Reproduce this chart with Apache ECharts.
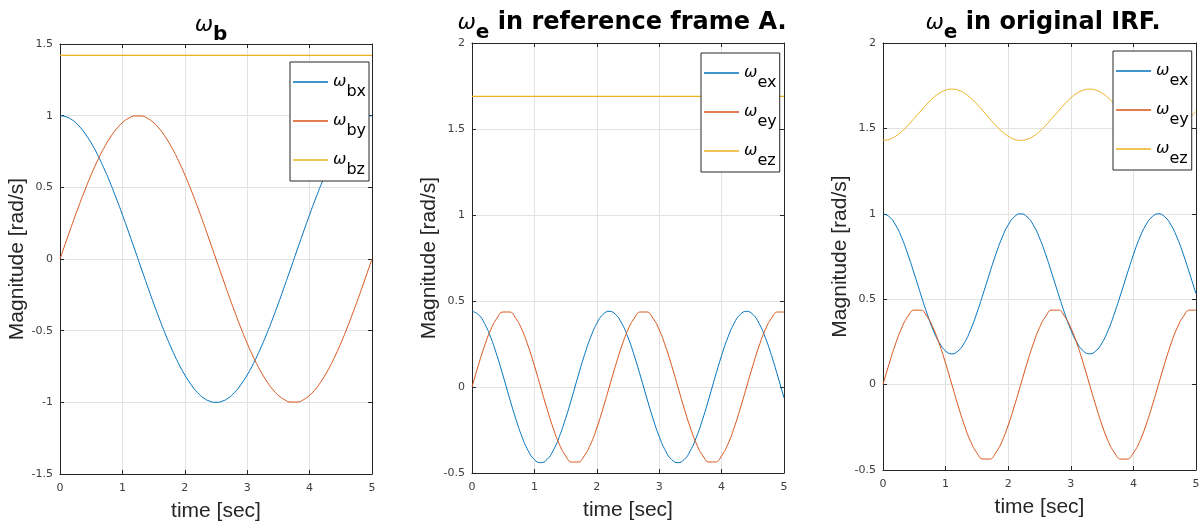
<!DOCTYPE html>
<html>
<head>
<meta charset="utf-8">
<script src="https://cdn.jsdelivr.net/npm/echarts@6/dist/echarts.min.js"></script>
<style>
  html, body { margin: 0; padding: 0; background: #fff; }
  #chart { width: 1204px; height: 529px; }
</style>
</head>
<body>
<div id="chart"></div>
<script>
// time samples (sec)
const time = [0,0.1,0.2,0.3,0.4,0.5,0.6,0.7,0.8,0.9,1,1.1,1.2,1.3,1.4,1.5,1.6,1.7,1.8,1.9,2,2.1,2.2,2.3,2.4,2.5,2.6,2.7,2.8,2.9,3,3.1,3.2,3.3,3.4,3.5,3.6,3.7,3.8,3.9,4,4.1,4.2,4.3,4.4,4.5,4.6,4.7,4.8,4.9,5];

// panel 1 : omega_b
const wbx = [1.000,0.992,0.969,0.930,0.876,0.809,0.729,0.637,0.536,0.426,0.309,0.187,0.063,-0.063,-0.187,-0.309,-0.426,-0.536,-0.637,-0.729,-0.809,-0.876,-0.930,-0.969,-0.992,-1.000,-0.992,-0.969,-0.930,-0.876,-0.809,-0.729,-0.637,-0.536,-0.426,-0.309,-0.187,-0.063,0.063,0.187,0.309,0.426,0.536,0.637,0.729,0.809,0.876,0.930,0.969,0.992,1.000];
const wby = [0,0.125,0.249,0.368,0.482,0.588,0.685,0.771,0.844,0.905,0.951,0.982,0.998,0.998,0.982,0.951,0.905,0.844,0.771,0.685,0.588,0.482,0.368,0.249,0.125,0,-0.125,-0.249,-0.368,-0.482,-0.588,-0.685,-0.771,-0.844,-0.905,-0.951,-0.982,-0.998,-0.998,-0.982,-0.951,-0.905,-0.844,-0.771,-0.685,-0.588,-0.482,-0.368,-0.249,-0.125,0];
const wbzTime = [0, 1, 2, 3, 4, 5];
const wbz = [1.42, 1.42, 1.42, 1.42, 1.42, 1.42];

// panel 2 : omega_e in reference frame A
const weAx = [0.440,0.422,0.370,0.288,0.183,0.063,-0.063,-0.183,-0.288,-0.370,-0.422,-0.440,-0.422,-0.370,-0.288,-0.183,-0.063,0.063,0.183,0.288,0.370,0.422,0.440,0.422,0.370,0.288,0.183,0.063,-0.063,-0.183,-0.288,-0.370,-0.422,-0.440,-0.422,-0.370,-0.288,-0.183,-0.063,0.063,0.183,0.288,0.370,0.422,0.440,0.422,0.370,0.288,0.183,0.063,-0.063];
const weAy = [0,0.124,0.238,0.333,0.400,0.436,0.436,0.400,0.333,0.238,0.124,0,-0.124,-0.238,-0.333,-0.400,-0.436,-0.436,-0.400,-0.333,-0.238,-0.124,0,0.124,0.238,0.333,0.400,0.436,0.436,0.400,0.333,0.238,0.124,0,-0.124,-0.238,-0.333,-0.400,-0.436,-0.436,-0.400,-0.333,-0.238,-0.124,0,0.124,0.238,0.333,0.400,0.436,0.436];
const weAzTime = [0, 1, 2, 3, 4, 5];
const weAz = [1.69, 1.69, 1.69, 1.69, 1.69, 1.69];

// panel 3 : omega_e in original IRF
const weIx = [1.000,0.983,0.935,0.859,0.760,0.648,0.532,0.420,0.321,0.245,0.197,0.180,0.197,0.245,0.321,0.420,0.532,0.648,0.760,0.859,0.935,0.983,1.000,0.983,0.935,0.859,0.760,0.648,0.532,0.420,0.321,0.245,0.197,0.180,0.197,0.245,0.321,0.420,0.532,0.648,0.760,0.859,0.935,0.983,1.000,0.983,0.935,0.859,0.760,0.648,0.532];
const weIy = [0,0.124,0.238,0.333,0.400,0.436,0.436,0.400,0.333,0.238,0.124,0,-0.124,-0.238,-0.333,-0.400,-0.436,-0.436,-0.400,-0.333,-0.238,-0.124,0,0.124,0.238,0.333,0.400,0.436,0.436,0.400,0.333,0.238,0.124,0,-0.124,-0.238,-0.333,-0.400,-0.436,-0.436,-0.400,-0.333,-0.238,-0.124,0,0.124,0.238,0.333,0.400,0.436,0.436];
const weIz = [1.430,1.436,1.454,1.482,1.518,1.559,1.601,1.642,1.678,1.706,1.724,1.730,1.724,1.706,1.678,1.642,1.601,1.559,1.518,1.482,1.454,1.436,1.430,1.436,1.454,1.482,1.518,1.559,1.601,1.642,1.678,1.706,1.724,1.730,1.724,1.706,1.678,1.642,1.601,1.559,1.518,1.482,1.454,1.436,1.430,1.436,1.454,1.482,1.518,1.559,1.601];

const xTicks = [0, 5, 1];           // min, max, step
const yRanges = [[-1.5, 1.5], [-0.5, 2], [-0.5, 2]];

const BLUE = '#0072BD', RED = '#D95319', YELLOW = '#EDB120';
const AX = '#262626';

// panel placement
const grids = [
  { left: 60, top: 44, width: 312, height: 430 },
  { left: 472, top: 43, width: 312, height: 430 },
  { left: 883, top: 43, width: 313, height: 427 }
];

const pairs = (xs, ys) => xs.map((x, i) => [x, ys[i]]);

// omega + lowered bold subscript
const titleRich = {
  w: { fontFamily: 'DejaVu Sans', fontStyle: 'italic', fontWeight: 'normal', fontSize: 22, color: '#000', lineHeight: 40, verticalAlign: 'middle' },
  s: { fontFamily: 'DejaVu Sans', fontWeight: 'bold', fontSize: 20, color: '#000', lineHeight: 4, verticalAlign: 'bottom' },
  t: { fontFamily: 'DejaVu Sans', fontWeight: 'bold', fontSize: 24, color: '#000', lineHeight: 40, verticalAlign: 'middle' }
};

const legendRich = {
  w: { fontFamily: 'DejaVu Sans', fontStyle: 'italic', fontSize: 16, color: '#000', lineHeight: 36, verticalAlign: 'middle' },
  s: { fontFamily: 'DejaVu Sans', fontSize: 16, color: '#000', lineHeight: 16, verticalAlign: 'bottom' }
};

function makeLegend(names, left, top) {
  return {
    data: names,
    orient: 'vertical',
    left: left, top: top,
    icon: 'rect',
    itemWidth: 35, itemHeight: 1.5,
    itemGap: 13,
    padding: [12, 3, 3, 3],
    borderColor: AX, borderWidth: 1, borderRadius: 0,
    backgroundColor: '#fff',
    selectedMode: false,
    formatter: n => '{w|ω}{s|' + n.slice(2) + '}',
    textStyle: { rich: legendRich }
  };
}

const xAxes = [], yAxes = [];
grids.forEach((g, i) => {
  xAxes.push({
    type: 'value', gridIndex: i, position: 'bottom', min: xTicks[0], max: xTicks[1], interval: xTicks[2],
    name: 'time [sec]', nameLocation: 'middle', nameGap: 27,
    nameTextStyle: { fontFamily: 'Liberation Sans', fontSize: 21, color: AX },
    axisLine: { show: true, onZero: false, lineStyle: { color: AX, width: 1 } },
    axisTick: { inside: true, length: 4, lineStyle: { color: AX } },
    axisLabel: { margin: 9, fontFamily: 'DejaVu Sans', fontSize: 11, color: '#404040' },
    splitLine: { show: true, lineStyle: { color: '#e3e3e3' } }
  });
  yAxes.push({
    type: 'value', gridIndex: i, position: 'left', min: yRanges[i][0], max: yRanges[i][1], interval: 0.5,
    name: 'Magnitude [rad/s]', nameLocation: 'middle', nameGap: 31,
    nameTextStyle: { fontFamily: 'Liberation Sans', fontSize: 21, color: AX },
    axisLine: { show: true, onZero: false, lineStyle: { color: AX, width: 1 } },
    axisTick: { show: true, inside: true, length: 4, lineStyle: { color: AX } },
    axisLabel: { margin: 7, fontFamily: 'DejaVu Sans', fontSize: 11, color: '#404040' },
    splitLine: { show: true, lineStyle: { color: '#e3e3e3' } }
  });
});
// mirrored top/right axes for the box ticks
grids.forEach((g, i) => {
  xAxes.push({
    type: 'value', gridIndex: i, position: 'top', min: xTicks[0], max: xTicks[1], interval: xTicks[2],
    axisLine: { show: true, onZero: false, lineStyle: { color: AX, width: 1 } },
    axisTick: { inside: true, length: 4, lineStyle: { color: AX } },
    axisLabel: { show: false }, splitLine: { show: false }
  });
  yAxes.push({
    type: 'value', gridIndex: i, position: 'right', min: yRanges[i][0], max: yRanges[i][1], interval: 0.5,
    axisLine: { show: true, onZero: false, lineStyle: { color: AX, width: 1 } },
    axisTick: { show: true, inside: true, length: 4, lineStyle: { color: AX } },
    axisLabel: { show: false }, splitLine: { show: false }
  });
});

function line(name, idx, data, color, w) {
  return {
    name: name, type: 'line', xAxisIndex: idx, yAxisIndex: idx,
    data: data, showSymbol: false, smooth: 0.5, animation: false,
    lineStyle: { color: color, width: w || 1 },
    itemStyle: { color: color }
  };
}

const option = {
  backgroundColor: '#fff',
  animation: false,
  title: [
    { text: '{w|ω}{s|b}', left: 211, top: 5, textAlign: 'center', padding: 0, textStyle: { rich: titleRich } },
    { text: '{w|ω}{s|e}{t| in reference frame A.}', left: 622, top: 3, textAlign: 'center', padding: 0, textStyle: { rich: titleRich } },
    { text: '{w|ω}{s|e}{t| in original IRF.}', left: 1043, top: 3, textAlign: 'center', padding: 0, textStyle: { rich: titleRich } }
  ],
  legend: [
    makeLegend(['b_bx', 'b_by', 'b_bz'], 290, 62),
    makeLegend(['A_ex', 'A_ey', 'A_ez'], 701, 53),
    makeLegend(['I_ex', 'I_ey', 'I_ez'], 1113, 51)
  ],
  grid: grids.map(g => Object.assign({ show: false, containLabel: false }, g)),
  xAxis: xAxes,
  yAxis: yAxes,
  series: [
    line('b_bx', 0, pairs(time, wbx), BLUE),
    line('b_by', 0, pairs(time, wby), RED),
    line('b_bz', 0, pairs(wbzTime, wbz), YELLOW, 1.2),
    line('A_ex', 1, pairs(time, weAx), BLUE),
    line('A_ey', 1, pairs(time, weAy), RED),
    line('A_ez', 1, pairs(weAzTime, weAz), YELLOW, 1.2),
    line('I_ex', 2, pairs(time, weIx), BLUE),
    line('I_ey', 2, pairs(time, weIy), RED),
    line('I_ez', 2, pairs(time, weIz), YELLOW)
  ]
};

const chart = echarts.init(document.getElementById('chart'), null, { renderer: 'canvas' });
chart.setOption(option);
</script>
</body>
</html>
